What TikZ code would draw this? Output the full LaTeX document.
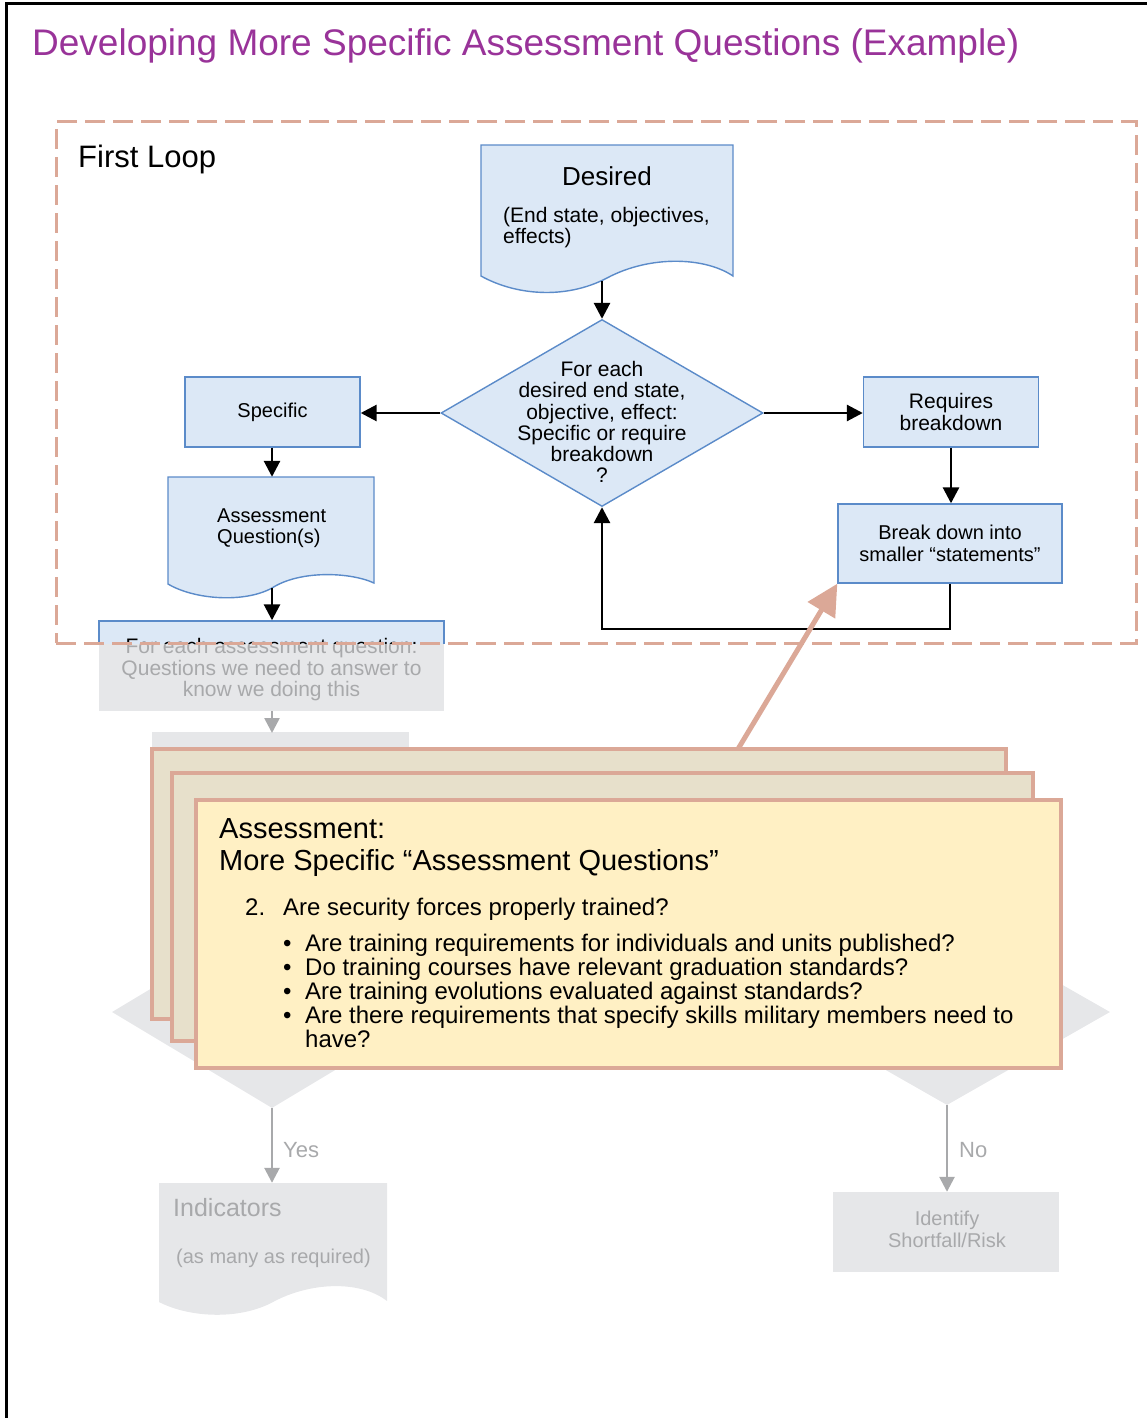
\documentclass[tikz,border=0pt]{standalone}
\usepackage{fontspec}
\setmainfont{Liberation Sans}
\usetikzlibrary{arrows.meta,shapes.geometric}
\definecolor{bluefill}{RGB}{220,232,246}
\definecolor{blueline}{RGB}{91,139,201}
\definecolor{titlepurple}{RGB}{153,51,153}
\definecolor{salmon}{RGB}{219,168,151}
\definecolor{cardback}{RGB}{231,224,203}
\definecolor{cardfront}{RGB}{255,240,196}
\definecolor{greyfill}{RGB}{230,231,233}
\definecolor{greytext}{RGB}{168,169,171}
\newcommand\fsz[2]{\fontsize{#1}{#2}\selectfont}
\begin{document}
\begin{tikzpicture}[x=1pt,y=-1pt,
  every node/.style={inner sep=0pt},
  arr/.style={line width=2.8pt,-{Triangle[width=16pt,length=16pt]}},
  garr/.style={line width=2.6pt,draw=greytext,-{Triangle[width=15pt,length=15pt]}},
  salarr/.style={line width=5pt,draw=salmon,-{Triangle[width=31pt,length=31pt]}},
  bluebox/.style={draw=blueline,fill=bluefill,line width=1.4pt,align=center},
  greybox/.style={fill=greyfill,text=greytext,align=center},
  card/.style={draw=salmon,line width=4pt},
  gtext/.style={text=greytext}]
\useasboundingbox (0,0) rectangle (1146,1418);
% frame
\draw[line width=3pt] (6,1430) -- (6,4) -- (1150,4);
% title
\node[anchor=base west,text=titlepurple,font=\fsz{37}{40}] (title) at (32,56) {Developing More Specific Assessment Questions (Example)};

% ---------- faded lower part ----------
\node[greybox,minimum width=345pt,minimum height=90pt] (fe) at (271.5,666) {};
\node[gtext,align=center,font=\fsz{21}{21.5}] (fet) at (271.5,670) {For each assessment question:\\Questions we need to answer to\\know we doing this};
\node[greybox,minimum width=257pt,minimum height=80pt] (gb) at (280.5,772) {};
\draw[garr] (fe.south -| 272,0) -- (272,733);
\node[diamond,fill=greyfill,minimum width=320pt,minimum height=192pt] (gdl) at (272,1012) {};
\node[diamond,fill=greyfill,minimum width=326pt,minimum height=186pt] (gdr) at (947,1012) {};
% indicators
\fill[greyfill] (159,1183) -- (387,1183) -- (387,1301) .. controls (360,1280) and (310,1282) .. (273,1302) .. controls (240,1320) and (190,1318) .. (159,1302) -- cycle;
\node[minimum width=228pt,minimum height=119pt] (ind) at (273,1242.5) {};
\node[gtext,anchor=base west,font=\fsz{25}{28}] (indt) at (173,1216) {Indicators};
\node[gtext,anchor=base west,font=\fsz{20}{22}] (inds) at (176,1263) {(as many as required)};
\node[greybox,minimum width=226pt,minimum height=80pt] (idn) at (946,1232) {};
\node[gtext,align=center,font=\fsz{20}{22}] (idnt) at (947,1229) {Identify\\Shortfall/Risk};
\draw[garr] (gdl.south) -- (gdl.south |- ind.north);
\draw[garr] (gdr.south) -- (gdr.south |- idn.north);
\node[gtext,anchor=west,font=\fsz{22}{24}] (yes) at (283,1150) {Yes};
\node[gtext,anchor=west,font=\fsz{22}{24}] (no) at (959,1150) {No};

% ---------- first loop ----------
\begin{scope}
\clip (0,0) rectangle (1146,643);
\node[bluebox,minimum width=345pt,minimum height=90pt] (fetop) at (271.5,666) {};
\node[align=center,font=\fsz{21}{21.5}] (fett) at (271.5,670) {For each assessment question:\\Questions we need to answer to\\know we doing this};
\end{scope}

% desired (document shape)
\draw[draw=blueline,fill=bluefill,line width=1.4pt] (481,145) -- (733,145) -- (733,276) .. controls (705,257) and (650,255) .. (607,278) .. controls (565,300) and (515,295) .. (481,276) -- cycle;
\node[minimum width=252pt,minimum height=136pt] (des) at (607,213) {};
\node[anchor=base,font=\fsz{26}{28}] (dest) at (607,185) {Desired};
\node[anchor=base west,align=left,font=\fsz{21}{21}] (dess) at (503,222) {(End state, objectives,};
\node[anchor=base west,align=left,font=\fsz{21}{21}] (dess2) at (503,243) {effects)};

% decision
\node[diamond,draw=blueline,fill=bluefill,line width=1.4pt,minimum width=322pt,minimum height=187pt] (dec) at (602,413) {};
\node[align=center,font=\fsz{21}{21.2}] (dect) at (602,422) {For each\\desired end state,\\objective, effect:\\Specific or require\\breakdown\\?};

\node[bluebox,minimum width=175pt,minimum height=70pt,font=\fsz{20}{21}] (spec) at (272.5,412) {Specific};
\node[bluebox,minimum width=175pt,minimum height=70pt,font=\fsz{21}{22}] (req) at (951,412) {Requires\\breakdown};
\node[bluebox,minimum width=224pt,minimum height=79pt,font=\fsz{20}{21.5}] (brk) at (950,543.5) {Break down into\\smaller “statements”};

% assessment question(s) (document shape)
\draw[draw=blueline,fill=bluefill,line width=1.4pt] (168,477) -- (374,477) -- (374,583) .. controls (350,572) and (300,570) .. (272,588) .. controls (245,603) and (195,600) .. (168,584) -- cycle;
\node[minimum width=206pt,minimum height=111pt] (aq) at (272,532.5) {};
\node[anchor=west,align=left,font=\fsz{20}{21}] (aqt) at (217,528.5) {Assessment\\Question(s)};

% connectors
\draw[arr] (dec.north |- des.south) -- (dec.north);
\draw[arr] (dec.west) -- (dec.west -| spec.east);
\draw[arr] (dec.east) -- (dec.east -| req.west);
\draw[arr] (aq.north |- spec.south) -- (aq.north);
\draw[arr] (aq.south) -- (aq.south |- fetop.north);
\draw[arr] (req.south) -- (req.south |- brk.north);
\coordinate (loopy) at (0,629);
\draw[arr] (brk.south) -- (brk.south |- loopy) -| (dec.south);

% dashed loop frame
\node[draw=salmon,line width=3pt,dash pattern=on 20pt off 8pt,minimum width=1080pt,minimum height=521pt] (loop) at (596,382.5) {};
\node[anchor=base west,font=\fsz{31}{34}] (fl) at (78,167) {First Loop};

% salmon arrow
\coordinate (salstart) at (738,749);
\draw[salarr] (salstart) -- (brk.south west);

% cards
\node[card,fill=cardback,minimum width=854pt,minimum height=270pt] (c1) at (579,884) {};
\node[card,fill=cardback,minimum width=861pt,minimum height=268pt] (c2) at (602.5,907) {};
\node[card,fill=cardfront,minimum width=865pt,minimum height=268pt] (c3) at (628.5,934) {};
\node[anchor=base west,font=\fsz{29}{32}] (ca) at (219,838) {Assessment:};
\node[anchor=base west,font=\fsz{29}{32}] (cb) at (219,870) {More Specific “Assessment Questions”};
\node[anchor=base west,font=\fsz{24}{24}] (qn) at (245,915) {2.};
\node[anchor=base west,font=\fsz{24}{24}] (q) at (283,915) {Are security forces properly trained?};
\foreach \i/\t in {0/Are training requirements for individuals and units published?,
                   1/Do training courses have relevant graduation standards?,
                   2/Are training evolutions evaluated against standards?,
                   3/Are there requirements that specify skills military members need to}{
  \node[anchor=base west,font=\fsz{24}{24}] (b\i) at (283,951+24*\i) {\textbullet};
  \node[anchor=base west,font=\fsz{24}{24}] (t\i) at (305,951+24*\i) {\t};
}
\node[anchor=base west,font=\fsz{24}{24}] (t4) at (305,1047) {have?};
\end{tikzpicture}
\end{document}
